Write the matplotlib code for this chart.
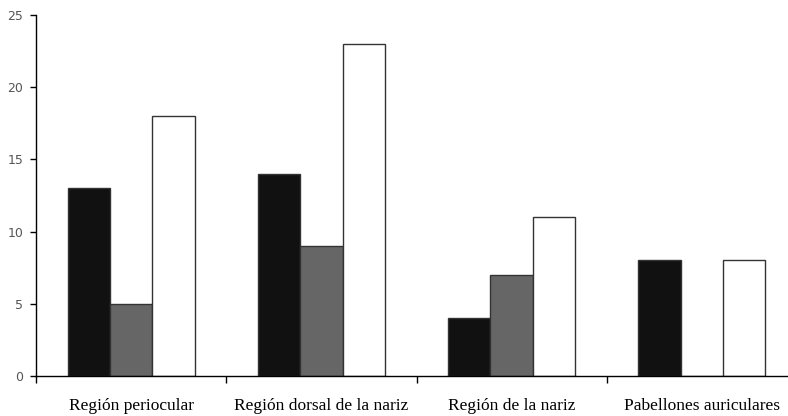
import matplotlib.pyplot as plt
import numpy as np

categorias = ['Región periocular', 'Región dorsal de la nariz',
              'Región de la nariz', 'Pabellones auriculares']
serie_negra = [13, 14, 4, 8]
serie_gris = [5, 9, 7, 0]
serie_blanca = [18, 23, 11, 8]

fig = plt.figure(figsize=(7.88, 4.16), dpi=100)
ax = fig.add_axes([36 / 788, 1 - 376 / 416, 761 / 788, 361 / 416])

x = np.arange(len(categorias))
w = 1 / 4.5
ax.bar(x - w, serie_negra, w, color='#111111', edgecolor='#333333', linewidth=1)
ax.bar(x, serie_gris, w, color='#666666', edgecolor='#333333', linewidth=1)
ax.bar(x + w, serie_blanca, w, color='white', edgecolor='#333333', linewidth=1)

ax.set_xlim(-0.5, len(categorias) - 0.5)
ax.set_ylim(0, 25)
ax.set_yticks(range(0, 26, 5))
ax.tick_params(axis='y', labelsize=9, labelcolor='#555555', length=4, width=1, pad=5)

ax.set_xticks(np.arange(len(categorias) + 1) - 0.5)
ax.set_xticklabels([])
ax.set_xticks(x, minor=True)
ax.set_xticklabels(categorias, minor=True, fontfamily='Liberation Serif', fontsize=12.5)
ax.tick_params(axis='x', which='major', length=5, width=1)
ax.tick_params(axis='x', which='minor', length=0, pad=16)

for s in ['top', 'right']:
    ax.spines[s].set_visible(False)
for s in ['left', 'bottom']:
    ax.spines[s].set_linewidth(1)

fig.savefig('out.png', dpi=100)
